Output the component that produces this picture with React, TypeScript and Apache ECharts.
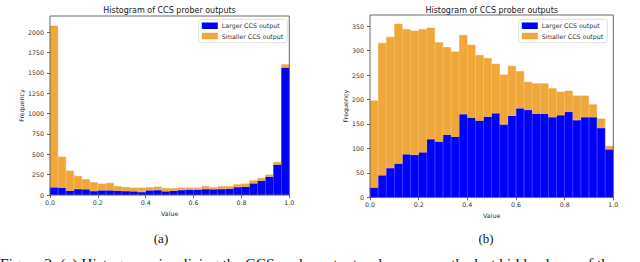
import React, { useEffect, useRef } from "react";
import * as echarts from "echarts";

// Bin left edges (30 equal bins on [0, 1])
const binStarts = [
  "0.000", "0.033", "0.067", "0.100", "0.133", "0.167", "0.200", "0.233", "0.267", "0.300",
  "0.333", "0.367", "0.400", "0.433", "0.467", "0.500", "0.533", "0.567", "0.600", "0.633",
  "0.667", "0.700", "0.733", "0.767", "0.800", "0.833", "0.867", "0.900", "0.933", "0.967",
];

// Panel (a)
const largerA = [94, 90, 53, 74, 70, 49, 57, 57, 53, 49, 45, 37, 57, 61, 45, 53, 62, 66, 66, 74, 70, 74, 78, 98, 102, 143, 176, 225, 373, 1566];
const smallerA = [1986, 381, 246, 160, 123, 107, 82, 91, 54, 49, 45, 53, 37, 41, 41, 29, 28, 24, 24, 36, 24, 33, 29, 33, 37, 37, 33, 25, 33, 39];

// Panel (b)
const largerB = [20, 45, 60, 69, 88, 87, 92, 119, 114, 128, 124, 170, 163, 157, 165, 172, 149, 167, 182, 179, 171, 171, 164, 168, 175, 158, 164, 164, 142, 98];
const smallerB = [178, 271, 268, 286, 256, 254, 252, 228, 203, 179, 174, 162, 149, 134, 120, 101, 102, 102, 76, 57, 62, 62, 59, 48, 43, 50, 44, 26, 19, 7];

const yTicksA = [0, 250, 500, 750, 1000, 1250, 1500, 1750, 2000];
const yTicksB = [0, 50, 100, 150, 200, 250, 300, 350];
const xTicks = [0, 0.2, 0.4, 0.6, 0.8, 1.0];

const seriesNames = ["Larger CCS output", "Smaller CCS output"];
const titleText = "Histogram of CCS prober outputs";
const captionText =
  "Figure 2: (a) Histogram visualizing the CCS probe outputs when we use the last hidden layer of the";

const FONT = "DejaVu Sans";
const BLUE = "#0000ff";
const ORANGE = "#f0a73a";
const AX = "#444";
const TXT = "#333";
const FS = 6.3;

const G = [
  { left: 50, top: 16, width: 239.3, height: 179 },
  { left: 370, top: 15, width: 243.3, height: 182.3 },
];

function xAxes(gi: number) {
  return [
    { type: "category", gridIndex: gi, data: binStarts, show: false, boundaryGap: true },
    {
      type: "value",
      gridIndex: gi,
      min: 0,
      max: 1,
      interval: 0.2,
      position: "bottom",
      axisLine: { show: false },
      axisTick: { show: true, length: 3, customValues: xTicks, lineStyle: { color: AX, width: 0.8 } },
      axisLabel: {
        fontSize: FS,
        color: TXT,
        margin: 4.5,
        customValues: xTicks,
        formatter: (v: number) => v.toFixed(1),
      },
      splitLine: { show: false },
      name: "Value",
      nameLocation: "middle",
      nameGap: 14,
      nameTextStyle: { fontSize: FS, color: TXT },
    },
  ];
}

function yAxis(gi: number, max: number, interval: number, ticks: number[]) {
  return {
    type: "value",
    gridIndex: gi,
    min: 0,
    max,
    interval,
    axisLine: { show: false },
    axisTick: { show: true, length: 3, customValues: ticks, lineStyle: { color: AX, width: 0.8 } },
    axisLabel: { fontSize: FS, color: TXT, margin: 6, customValues: ticks, formatter: (v: number) => String(v) },
    splitLine: { show: false },
    name: "Frequency",
    nameLocation: "middle",
    nameGap: gi === 0 ? 25 : 21,
    nameTextStyle: { fontSize: FS, color: TXT },
  };
}

function barSeries(name: string, data: number[], xi: number, yi: number, stack: string, color: string) {
  return {
    type: "bar",
    name,
    data,
    xAxisIndex: xi,
    yAxisIndex: yi,
    stack,
    barCategoryGap: "0%",
    itemStyle: { color, borderColor: color, borderWidth: 0.6 },
    emphasis: { disabled: true },
  };
}

function legend(right: number, top: number) {
  return {
    data: seriesNames,
    orient: "vertical",
    right,
    top,
    icon: "rect",
    itemWidth: 14,
    itemHeight: 4.5,
    itemGap: 2.3,
    padding: [2.5, 4, 2.5, 3],
    backgroundColor: "rgba(255,255,255,0.85)",
    borderColor: "#d6d6d6",
    borderWidth: 0.8,
    borderRadius: 2,
    textStyle: { fontSize: FS, color: TXT, lineHeight: 8, fontFamily: FONT },
    selectedMode: false,
  };
}

export default function App() {
  const ref = useRef<HTMLDivElement>(null);
  useEffect(() => {
    if (!ref.current) return;
    const chart = echarts.init(ref.current, undefined, { renderer: "svg" });
    const frames = G.map((g) => ({
      type: "rect",
      shape: { x: g.left, y: g.top, width: g.width, height: g.height },
      style: { fill: "none", stroke: AX, lineWidth: 0.8 },
      z: 100,
      silent: true,
    }));
    chart.setOption({
      animation: false,
      textStyle: { fontFamily: FONT },
      grid: G.map((g) => ({ ...g, containLabel: false })),
      xAxis: [...xAxes(0), ...xAxes(1)],
      yAxis: [yAxis(0, 2200, 250, yTicksA), yAxis(1, 373, 50, yTicksB)],
      legend: [legend(352.7, 19.3), legend(32.7, 19.3)],
      series: [
        barSeries(seriesNames[0], largerA, 0, 0, "a", BLUE),
        barSeries(seriesNames[1], smallerA, 0, 0, "a", ORANGE),
        barSeries(seriesNames[0], largerB, 2, 1, "b", BLUE),
        barSeries(seriesNames[1], smallerB, 2, 1, "b", ORANGE),
      ],
      graphic: [
        ...frames,
        {
          type: "text",
          x: 169.5,
          y: 10,
          style: { text: titleText, fontSize: 8, fontFamily: FONT, fill: "#222", align: "center", verticalAlign: "middle" },
        },
        {
          type: "text",
          x: 491.7,
          y: 10,
          style: { text: titleText, fontSize: 8, fontFamily: FONT, fill: "#222", align: "center", verticalAlign: "middle" },
        },
        {
          type: "text",
          x: 161,
          y: 238.5,
          style: { text: "(a)", fontSize: 13, fontFamily: "Liberation Serif", fill: "#111", align: "center", verticalAlign: "middle" },
        },
        {
          type: "text",
          x: 486,
          y: 238.5,
          style: { text: "(b)", fontSize: 13, fontFamily: "Liberation Serif", fill: "#111", align: "center", verticalAlign: "middle" },
        },
        {
          type: "text",
          x: 0,
          y: 263,
          style: { text: captionText, fontSize: 15.5, fontFamily: "Liberation Serif", fill: "#111", align: "left", verticalAlign: "middle" },
        },
      ],
    });
    return () => chart.dispose();
  }, []);
  return (
    <div
      ref={ref}
      style={{ position: "fixed", left: 0, top: 0, width: 640, height: 262, overflow: "hidden", background: "#fff" }}
    />
  );
}
